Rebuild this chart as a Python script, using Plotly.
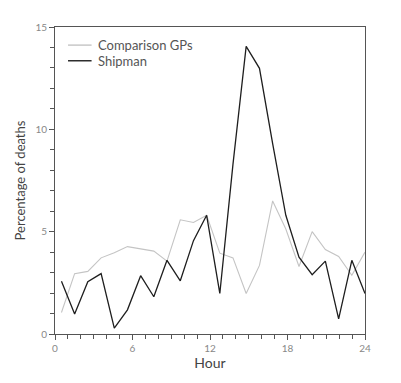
import plotly.graph_objects as go

hours = [0.5, 1.52, 2.54, 3.57, 4.59, 5.61, 6.63, 7.65, 8.67, 9.70, 10.72, 11.74,
         12.76, 13.78, 14.80, 15.83, 16.85, 17.87, 18.89, 19.91, 20.93, 21.96, 22.98, 24.0]
comparison_gps = [1.05, 2.95, 3.06, 3.72, 3.97, 4.27, 4.16, 4.05, 3.56, 5.58, 5.45, 5.8,
                  3.95, 3.72, 1.98, 3.35, 6.5, 5.13, 3.3, 5.0, 4.13, 3.79, 2.87, 4.0]
shipman = [2.58, 0.98, 2.55, 2.95, 0.29, 1.18, 2.85, 1.82, 3.6, 2.6, 4.56, 5.8,
           1.98, 8.3, 14.05, 12.98, 9.3, 5.8, 3.75, 2.9, 3.56, 0.74, 3.6, 1.98]
series_names = ["Comparison GPs", "Shipman"]
x_ticks = [0, 6, 12, 18, 24]
y_ticks = [0, 5, 10, 15]

gray = "#c4c4c4"
black = "#1e1e1e"
font = "Lato"

fig = go.Figure()
fig.add_trace(go.Scatter(x=hours, y=comparison_gps, mode="lines", name=series_names[0],
                         line=dict(color=gray, width=1.1)))
fig.add_trace(go.Scatter(x=hours, y=shipman, mode="lines", name=series_names[1],
                         line=dict(color=black, width=1.3)))

axis_common = dict(showgrid=False, zeroline=False, showline=True, linecolor="#555",
                   linewidth=1, mirror=True, ticks="outside", ticklen=5, tickwidth=1,
                   tickcolor="#555", tickfont=dict(family=font, size=10, color="#888"))

fig.update_xaxes(range=[0, 24], tickvals=x_ticks, ticktext=[str(v) for v in x_ticks],
                 minor=dict(dtick=1, ticks="outside", ticklen=4, tickcolor="#555"),
                 title=dict(text="Hour", font=dict(family=font, size=14, color="#444"),
                            standoff=4),
                 **axis_common)
fig.update_yaxes(range=[0, 15], tickvals=y_ticks, ticktext=[str(v) for v in y_ticks],
                 minor=dict(dtick=1, ticks="outside", ticklen=4, tickcolor="#555"),
                 title=dict(text="Percentage of deaths",
                            font=dict(family=font, size=13, color="#444"), standoff=6),
                 **axis_common)

# manual legend
legend_y = [0.941, 0.890]
legend_colors = [gray, black]
for name, yy, col in zip(series_names, legend_y, legend_colors):
    fig.add_shape(type="line", xref="paper", yref="paper", x0=0.042, x1=0.118,
                  y0=yy, y1=yy, line=dict(color=col, width=1.4))
    fig.add_annotation(x=0.132, y=yy, xref="paper", yref="paper", text=name,
                       showarrow=False, xanchor="left", yanchor="middle",
                       font=dict(family=font, size=13, color="#555"))

fig.update_layout(width=393, height=375, showlegend=False,
                  margin=dict(l=46, r=36, t=16.5, b=48.7),
                  plot_bgcolor="white", paper_bgcolor="white")

fig.write_html("out.html")
